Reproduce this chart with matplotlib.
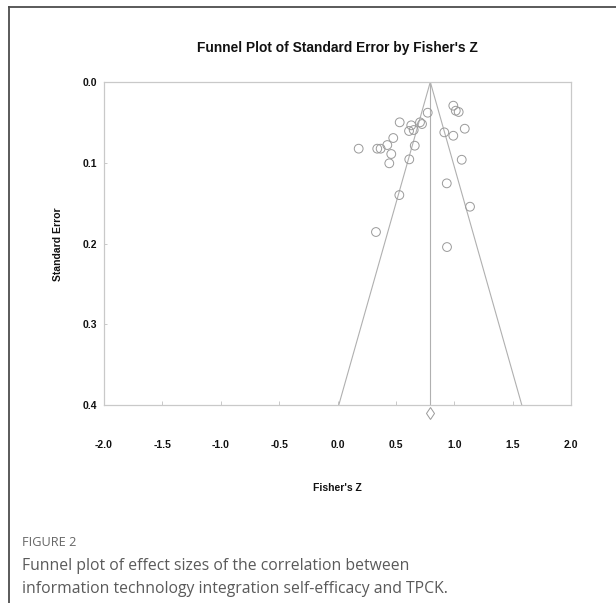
import matplotlib
matplotlib.use("Agg")
import matplotlib.pyplot as plt
from matplotlib.lines import Line2D
import numpy as np

# ---- data ----
fisher_z = [0.990, 1.011, 1.036, 0.771, 0.531, 0.630, 0.705, 0.722, 0.611, 0.651,
            0.913, 1.088, 0.990, 0.476, 0.425, 0.180, 0.339, 0.368, 0.660, 0.459,
            0.613, 0.442, 1.062, 0.934, 0.528, 1.133, 0.328, 0.936]
std_err = [0.0293, 0.0355, 0.0371, 0.0380, 0.0499, 0.0536, 0.0499, 0.0520, 0.0606, 0.0594,
           0.0623, 0.0578, 0.0665, 0.0693, 0.0780, 0.0825, 0.0825, 0.0825, 0.0788, 0.0891,
           0.0957, 0.1006, 0.0962, 0.1254, 0.1399, 0.1543, 0.1856, 0.2042]
summary_z = 0.793
x_ticks = [-2.0, -1.5, -1.0, -0.5, 0.0, 0.5, 1.0, 1.5, 2.0]
y_ticks = [0.0, 0.1, 0.2, 0.3, 0.4]

W, H = 616, 603
fig = plt.figure(figsize=(W / 100, H / 100), dpi=100)
fig.patch.set_facecolor("white")

def fx(px):
    return px / W

def fy(py):
    return 1 - py / H

# card border
fig.add_artist(Line2D([fx(9), fx(616)], [fy(7), fy(7)], color="#4d4d4d", lw=1.3))
fig.add_artist(Line2D([fx(9), fx(9)], [fy(7), fy(603)], color="#4d4d4d", lw=1.3))

ax_l, ax_r, ax_t, ax_b = 104, 571.3, 82, 405.3
ax = fig.add_axes([fx(ax_l), fy(ax_b), (ax_r - ax_l) / W, (ax_b - ax_t) / H])
ax.set_xlim(-2.0, 2.0)
ax.set_ylim(0.4, 0.0)

grey = "#c9c9c9"
for s in ax.spines.values():
    s.set_color(grey)
    s.set_linewidth(0.9)

# funnel
se_max = 0.4
ax.plot([summary_z - 1.96 * se_max, summary_z, summary_z + 1.96 * se_max],
        [se_max, 0.0, se_max], color="#b0b0b0", lw=0.8, zorder=2)
ax.plot([summary_z, summary_z], [0.0, se_max], color="#b0b0b0", lw=0.8, zorder=2)

# studies
ax.scatter(fisher_z, std_err, s=40, facecolors="none", edgecolors="#9a9a9a",
           linewidths=0.7, zorder=3)

# summary diamond
ax.plot([summary_z], [0.41], marker="d", markersize=6.5, markerfacecolor="white",
        markeredgecolor="#9a9a9a", markeredgewidth=0.7, clip_on=False, zorder=4)

ax.set_xticks(x_ticks)
ax.set_xticklabels([f"{v:.1f}" for v in x_ticks])
ax.set_yticks(y_ticks)
ax.set_yticklabels([f"{v:.1f}" for v in y_ticks])
ax.tick_params(axis="x", direction="in", length=3, width=0.7, color=grey, pad=25,
               labelsize=7.5, labelcolor="#111111")
ax.tick_params(axis="y", direction="in", length=2, width=0.7, color=grey, pad=5,
               labelsize=7.5, labelcolor="#111111")
for lab in ax.get_xticklabels() + ax.get_yticklabels():
    lab.set_fontfamily("Liberation Sans")
    lab.set_fontweight("bold")

# titles / labels
fig.text(fx(337.5), fy(48), "Funnel Plot of Standard Error by Fisher's Z",
         ha="center", va="center", fontsize=9.9, fontweight="bold",
         family="Liberation Sans", color="#111111")
fig.text(fx(337.5), fy(488), "Fisher's Z", ha="center", va="center", fontsize=7.5,
         fontweight="bold", family="Liberation Sans", color="#111111")
fig.text(fx(58), fy(244), "Standard Error", ha="center", va="center", rotation=90,
         fontsize=7.5, fontweight="bold", family="Liberation Sans", color="#111111")

# caption
fig.text(fx(22), fy(543), "FIGURE 2", ha="left", va="center", fontsize=9.2,
         family="Open Sans", color="#666666")
fig.text(fx(22), fy(566), "Funnel plot of effect sizes of the correlation between",
         ha="left", va="center", fontsize=11.3, family="Open Sans", color="#5a5a5a")
fig.text(fx(22), fy(589), "information technology integration self-efficacy and TPCK.",
         ha="left", va="center", fontsize=11.3, family="Open Sans", color="#5a5a5a")

fig.savefig("out.png", dpi=100, facecolor="white")
